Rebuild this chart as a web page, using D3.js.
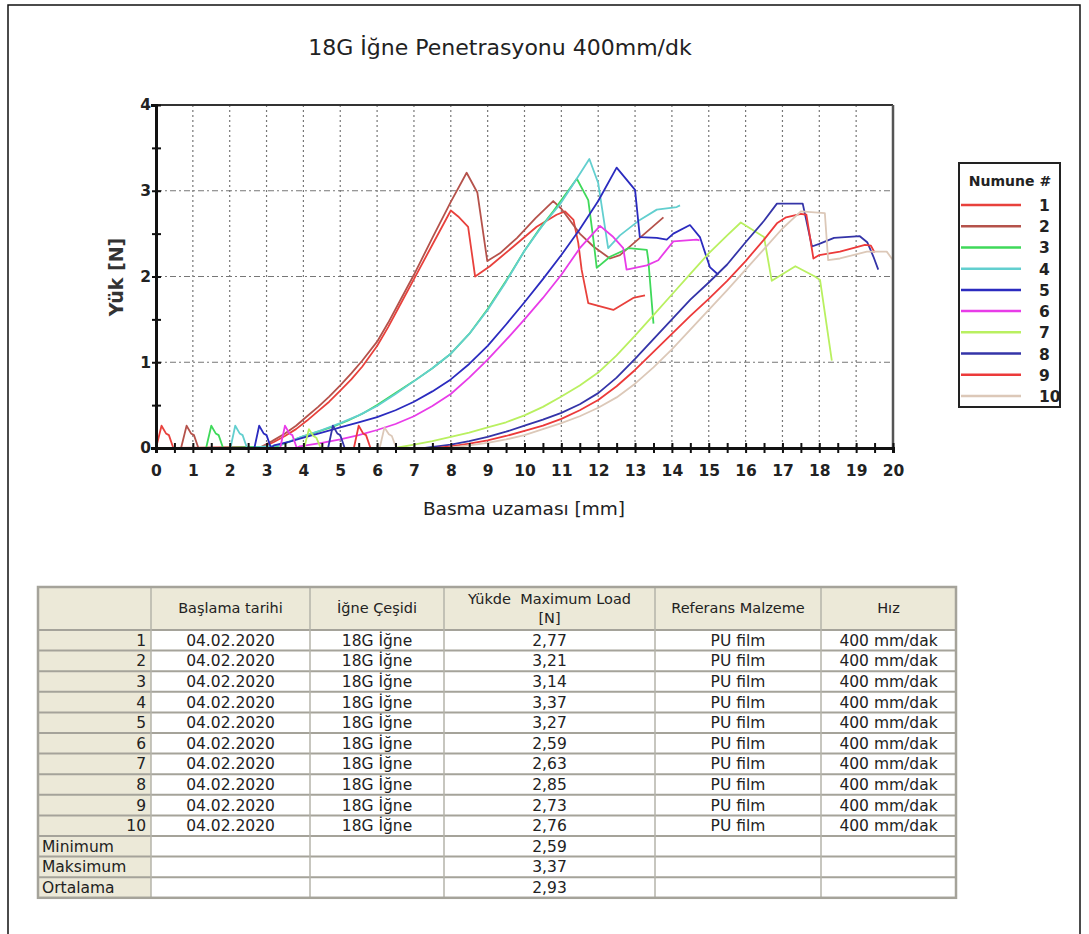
<!DOCTYPE html>
<html>
<head>
<meta charset="utf-8">
<script src="https://cdn.jsdelivr.net/npm/d3@7"></script>
<style>
  body { margin: 0; background: #fff; }
  svg { display: block; font-family: "DejaVu Sans", Verdana, sans-serif; }
</style>
</head>
<body>
<svg id="chart" width="1089" height="934"></svg>
<script>
// ---- data ----
const chartTitle = "18G İğne Penetrasyonu 400mm/dk";
const xLabel = "Basma uzaması [mm]";
const yLabel = "Yük [N]";
const xTicks = [0,1,2,3,4,5,6,7,8,9,10,11,12,13,14,15,16,17,18,19,20];
const yTicks = [0,1,2,3,4];
const legendTitle = "Numune #";
const sampleNames = ["1","2","3","4","5","6","7","8","9","10"];

// [Basma uzaması mm, Yük N]
const n1 = [[0,0],[0.15,0.26],[0.27,0.17],[0.35,0.15],[0.47,0],[2.9,0.01],[3.2,0.07],[3.5,0.14],[3.8,0.22],[4.1,0.32],[4.4,0.43],[4.7,0.54],[5.0,0.67],[5.3,0.8],[5.6,0.95],[6.0,1.19],[6.3,1.41],[6.6,1.65],[7.0,1.97],[7.5,2.37],[8.0,2.77],[8.2,2.7],[8.47,2.58],[8.66,2.0],[9.06,2.12],[9.7,2.35],[10.33,2.58],[10.87,2.72],[11.1,2.76],[11.33,2.66],[11.46,2.39],[11.55,2.08],[11.73,1.69],[12.41,1.61],[12.95,1.75],[13.27,1.78]];
const n2 = [[0.68,0],[0.83,0.26],[0.95,0.17],[1.03,0.15],[1.15,0],[2.85,0.01],[3.15,0.08],[3.5,0.17],[3.8,0.26],[4.1,0.37],[4.4,0.48],[4.7,0.6],[5.0,0.73],[5.3,0.87],[5.6,1.02],[6.0,1.24],[6.3,1.46],[6.6,1.7],[7.0,2.02],[7.5,2.45],[8.0,2.87],[8.43,3.21],[8.72,2.98],[8.99,2.18],[9.33,2.27],[9.8,2.45],[10.3,2.68],[10.78,2.88],[11.0,2.79],[11.5,2.5],[11.87,2.35],[12.32,2.21],[12.59,2.25],[13.13,2.45],[13.77,2.69]];
const n3 = [[1.36,0],[1.5,0.26],[1.62,0.17],[1.7,0.15],[1.82,0],[3.3,0.02],[3.9,0.12],[4.4,0.19],[4.8,0.25],[5.2,0.32],[5.6,0.4],[6.0,0.5],[6.5,0.64],[7.0,0.78],[7.5,0.93],[8.0,1.1],[8.5,1.33],[9.0,1.62],[9.5,1.95],[10.0,2.3],[10.4,2.55],[10.78,2.76],[11.1,2.95],[11.42,3.14],[11.73,2.89],[11.87,2.43],[11.96,2.1],[12.32,2.23],[12.82,2.33],[13.32,2.31],[13.36,2.19],[13.5,1.45]];
const n4 = [[2.02,0],[2.15,0.26],[2.27,0.17],[2.35,0.15],[2.47,0],[3.35,0.03],[4.0,0.14],[4.5,0.21],[5.0,0.29],[5.5,0.38],[6.0,0.49],[6.5,0.63],[7.0,0.78],[7.5,0.93],[8.0,1.1],[8.5,1.33],[9.0,1.61],[9.5,1.94],[10.0,2.3],[10.5,2.6],[10.96,2.84],[11.3,3.06],[11.76,3.37],[12.0,3.09],[12.27,2.33],[12.59,2.48],[13.13,2.66],[13.59,2.78],[14.13,2.81],[14.22,2.83]];
const n5 = [[2.67,0],[2.8,0.26],[2.92,0.17],[3.0,0.15],[3.12,0],[3.2,0.03],[3.6,0.07],[4.0,0.12],[4.5,0.18],[5.0,0.24],[5.5,0.3],[6.0,0.36],[6.5,0.44],[7.0,0.54],[7.5,0.66],[8.0,0.8],[8.5,0.98],[9.0,1.19],[9.5,1.44],[10.0,1.7],[10.5,1.97],[11.0,2.25],[11.5,2.55],[12.0,2.88],[12.5,3.27],[13.0,3.01],[13.13,2.46],[13.59,2.45],[13.86,2.43],[14.04,2.5],[14.49,2.6],[14.76,2.46],[15.03,2.11],[15.26,2.02]];
const n6 = [[3.37,0],[3.5,0.26],[3.62,0.17],[3.7,0.15],[3.82,0],[3.9,0.02],[4.5,0.06],[5.0,0.1],[5.5,0.15],[6.0,0.21],[6.5,0.28],[7.0,0.37],[7.5,0.49],[8.0,0.63],[8.5,0.82],[9.0,1.03],[9.5,1.26],[10.0,1.5],[10.5,1.75],[11.0,2.02],[11.5,2.33],[12.05,2.59],[12.41,2.46],[12.68,2.33],[12.77,2.08],[13.32,2.13],[13.63,2.19],[14.04,2.41],[14.67,2.43],[14.75,2.42]];
const n7 = [[4.02,0],[4.15,0.22],[4.27,0.14],[4.35,0.12],[4.47,0],[6.5,0],[7.0,0.04],[7.5,0.08],[8.0,0.13],[8.5,0.18],[9.0,0.24],[9.5,0.3],[10.0,0.38],[10.5,0.48],[11.0,0.6],[11.5,0.73],[12.0,0.88],[12.5,1.08],[13.0,1.31],[13.5,1.55],[14.0,1.79],[14.5,2.03],[15.0,2.27],[15.5,2.48],[15.87,2.63],[16.5,2.46],[16.71,1.95],[17.35,2.12],[17.88,2.0],[18.02,1.96],[18.34,1.02]];
const n8 = [[4.67,0],[4.8,0.26],[4.92,0.17],[5.0,0.15],[5.12,0],[7.3,0],[8.0,0.04],[8.5,0.08],[9.0,0.13],[9.5,0.19],[10.0,0.26],[10.5,0.33],[11.0,0.41],[11.5,0.51],[12.0,0.64],[12.5,0.82],[13.0,1.04],[13.5,1.27],[14.0,1.5],[14.5,1.73],[15.0,1.93],[15.5,2.14],[16.0,2.4],[16.5,2.65],[16.85,2.85],[17.55,2.85],[17.8,2.35],[18.0,2.38],[18.4,2.45],[19.1,2.47],[19.3,2.4],[19.47,2.23],[19.6,2.08]];
const n9 = [[5.37,0],[5.5,0.26],[5.62,0.17],[5.7,0.15],[5.82,0],[7.6,0],[8.0,0.02],[8.5,0.05],[9.0,0.09],[9.5,0.14],[10.0,0.2],[10.5,0.26],[11.0,0.34],[11.5,0.44],[12.0,0.56],[12.5,0.72],[13.0,0.91],[13.5,1.12],[14.0,1.33],[14.5,1.54],[15.0,1.74],[15.5,1.95],[16.0,2.18],[16.5,2.43],[16.85,2.62],[17.1,2.69],[17.5,2.73],[17.65,2.72],[17.84,2.21],[18.0,2.25],[18.56,2.29],[19.24,2.37],[19.4,2.36],[19.5,2.28]];
const n10 = [[6.07,0],[6.2,0.24],[6.32,0.16],[6.4,0.14],[6.52,0],[7.9,0],[8.5,0.03],[9.0,0.06],[9.5,0.1],[10.0,0.15],[10.5,0.22],[11.0,0.29],[11.5,0.37],[12.0,0.47],[12.5,0.59],[13.0,0.75],[13.5,0.94],[14.0,1.15],[14.5,1.38],[15.0,1.61],[15.5,1.84],[16.0,2.08],[16.5,2.32],[17.0,2.56],[17.5,2.76],[18.15,2.74],[18.24,2.19],[18.56,2.21],[19.29,2.29],[19.83,2.29],[20.0,2.19]];
const allSeries = [n1, n2, n3, n4, n5, n6, n7, n8, n9, n10];

// table
const tableHeaders = ["", "Başlama tarihi", "İğne Çeşidi", "Yükde  Maximum Load\n[N]", "Referans Malzeme", "Hız"];
const startDates = ["04.02.2020","04.02.2020","04.02.2020","04.02.2020","04.02.2020","04.02.2020","04.02.2020","04.02.2020","04.02.2020","04.02.2020"];
const needleTypes = ["18G İğne","18G İğne","18G İğne","18G İğne","18G İğne","18G İğne","18G İğne","18G İğne","18G İğne","18G İğne"];
const maxLoads = ["2,77","3,21","3,14","3,37","3,27","2,59","2,63","2,85","2,73","2,76"];
const refMaterials = ["PU film","PU film","PU film","PU film","PU film","PU film","PU film","PU film","PU film","PU film"];
const speeds = ["400 mm/dak","400 mm/dak","400 mm/dak","400 mm/dak","400 mm/dak","400 mm/dak","400 mm/dak","400 mm/dak","400 mm/dak","400 mm/dak"];
const summaryLabels = ["Minimum", "Maksimum", "Ortalama"];
const summaryValues = ["2,59", "3,37", "2,93"];

// ---- styles ----
const colors = ["#e8413c", "#b5524b", "#3fd95a", "#62cfcf", "#2b2bbf", "#e83ce8", "#b9f060", "#3434a8", "#ec3a3a", "#dcc8b8"];
const beige = "#ece9d8";

const svg = d3.select("#chart");

// outer frame
svg.append("rect")
    .attr("x", 8).attr("y", 5)
    .attr("width", 1072).attr("height", 940)
    .attr("fill", "none").attr("stroke", "#111").attr("stroke-width", 1.5);

svg.append("text")
    .attr("x", 500).attr("y", 55)
    .attr("text-anchor", "middle")
    .attr("font-size", 22)
    .attr("fill", "#222")
    .text(chartTitle);

// scales
const plot = { left: 156, right: 893, top: 105, bottom: 448 };
const xScale = d3.scaleLinear().domain([0, 20]).range([plot.left, plot.right]);
const yScale = d3.scaleLinear().domain([0, 4]).range([plot.bottom, plot.top]);

// grid
const grid = svg.append("g");
grid.selectAll("line.vx")
    .data(xTicks.filter(d => d > 0 && d < 20))
    .enter().append("line")
        .attr("x1", d => xScale(d)).attr("x2", d => xScale(d))
        .attr("y1", plot.top).attr("y2", plot.bottom)
        .attr("stroke", "#777").attr("stroke-width", 1.2)
        .attr("stroke-dasharray", "2,3");
grid.selectAll("line.hy")
    .data(yTicks.filter(d => d > 0 && d < 4))
    .enter().append("line")
        .attr("x1", plot.left).attr("x2", plot.right)
        .attr("y1", d => yScale(d)).attr("y2", d => yScale(d))
        .attr("stroke", "#777").attr("stroke-width", 1.2)
        .attr("stroke-dasharray", "6,3,2,3");

// curves
const line = d3.line().x(d => xScale(d[0])).y(d => yScale(d[1]));
svg.append("g")
    .selectAll("path")
    .data(allSeries)
    .enter().append("path")
        .attr("d", line)
        .attr("fill", "none")
        .attr("stroke", (d, i) => colors[i])
        .attr("stroke-width", 1.8)
        .attr("stroke-linejoin", "round");

// frame of the plot
svg.append("line").attr("x1", plot.left).attr("x2", plot.right).attr("y1", plot.top).attr("y2", plot.top)
    .attr("stroke", "#333").attr("stroke-width", 2);
svg.append("line").attr("x1", plot.right).attr("x2", plot.right).attr("y1", plot.top).attr("y2", plot.bottom)
    .attr("stroke", "#555").attr("stroke-width", 2.5);

// axes
const xAxisGenerator = d3.axisBottom(xScale)
    .tickValues(d3.range(0, 20.01, 0.5))
    .tickSize(5)
    .tickFormat(d => Number.isInteger(d) ? d : "");
const xAxis = svg.append("g")
    .attr("transform", `translate(0,${plot.bottom})`)
    .call(xAxisGenerator);
xAxis.select(".domain").attr("stroke", "#111").attr("stroke-width", 3);
xAxis.selectAll(".tick line").attr("y1", -5).attr("y2", 5).attr("stroke", "#111").attr("stroke-width", 2);
xAxis.selectAll(".tick text")
    .attr("y", 17)
    .attr("font-size", 15.5).attr("font-weight", "bold")
    .attr("font-family", "DejaVu Sans, sans-serif")
    .attr("fill", "#222");

const yAxisGenerator = d3.axisLeft(yScale)
    .tickValues(d3.range(0, 4.01, 0.5))
    .tickSize(5)
    .tickFormat(d => Number.isInteger(d) ? d : "");
const yAxis = svg.append("g")
    .attr("transform", `translate(${plot.left},0)`)
    .call(yAxisGenerator);
yAxis.select(".domain").attr("stroke", "#111").attr("stroke-width", 3);
yAxis.selectAll(".tick line").attr("x1", -4).attr("x2", 5).attr("stroke", "#111").attr("stroke-width", 2);
yAxis.selectAll(".tick text")
    .attr("x", -5)
    .attr("font-size", 15.5).attr("font-weight", "bold")
    .attr("font-family", "DejaVu Sans, sans-serif")
    .attr("fill", "#222");

svg.append("text")
    .attr("x", 524).attr("y", 515)
    .attr("text-anchor", "middle")
    .attr("font-size", 18.5)
    .attr("fill", "#222")
    .text(xLabel);

svg.append("text")
    .attr("transform", "translate(123,277) rotate(-90)")
    .attr("text-anchor", "middle")
    .attr("font-size", 19)
    .attr("font-weight", "bold")
    .attr("fill", "#333")
    .text(yLabel);

// legend
const legend = svg.append("g");
legend.append("rect")
    .attr("x", 959).attr("y", 163)
    .attr("width", 101).attr("height", 244)
    .attr("fill", "#fff").attr("stroke", "#222").attr("stroke-width", 2);
legend.append("text")
    .attr("x", 1010).attr("y", 186)
    .attr("text-anchor", "middle")
    .attr("font-size", 14).attr("font-weight", "bold")
    .attr("fill", "#222")
    .text(legendTitle);
const legendY = d3.scalePoint().domain(sampleNames).range([205, 396]);
const legendItems = legend.selectAll("g.item")
    .data(sampleNames)
    .enter().append("g");
legendItems.append("line")
    .attr("x1", 961).attr("x2", 1021)
    .attr("y1", d => legendY(d)).attr("y2", d => legendY(d))
    .attr("stroke", (d, i) => colors[i])
    .attr("stroke-width", 2.5);
legendItems.append("text")
    .attr("x", 1039).attr("y", d => legendY(d) + 6)
    .attr("font-size", 15.5).attr("font-weight", "bold")
    .attr("fill", "#222")
    .text(d => d);

// table
const colEdges = [38, 151, 310, 444, 655, 821, 956];
const headerTop = 587, headerBottom = 630, rowH = 20.6;
const rowLabels = sampleNames.concat(summaryLabels);
const tableRows = rowLabels.map((label, i) => i < 10
    ? [label, startDates[i], needleTypes[i], maxLoads[i], refMaterials[i], speeds[i]]
    : [label, "", "", summaryValues[i - 10], "", ""]);
const tableBottom = headerBottom + rowH * tableRows.length;

const table = svg.append("g").attr("font-size", 15.5).attr("fill", "#222");
table.append("rect")
    .attr("x", colEdges[0]).attr("y", headerTop)
    .attr("width", colEdges[6] - colEdges[0]).attr("height", tableBottom - headerTop)
    .attr("fill", "#fff");
table.append("rect")
    .attr("x", colEdges[0]).attr("y", headerTop)
    .attr("width", colEdges[6] - colEdges[0]).attr("height", headerBottom - headerTop)
    .attr("fill", beige);
table.append("rect")
    .attr("x", colEdges[0]).attr("y", headerTop)
    .attr("width", colEdges[1] - colEdges[0]).attr("height", tableBottom - headerTop)
    .attr("fill", beige);

// row lines
table.selectAll("line.row")
    .data(d3.range(tableRows.length))
    .enter().append("line")
        .attr("x1", colEdges[0]).attr("x2", colEdges[6])
        .attr("y1", i => headerBottom + rowH * i).attr("y2", i => headerBottom + rowH * i)
        .attr("stroke", "#a5a39a").attr("stroke-width", 2);
table.selectAll("line.col")
    .data(colEdges.slice(1, 6))
    .enter().append("line")
        .attr("x1", d => d).attr("x2", d => d)
        .attr("y1", headerTop).attr("y2", tableBottom)
        .attr("stroke", "#b5b3aa").attr("stroke-width", 1.5);
table.append("rect")
    .attr("x", colEdges[0]).attr("y", headerTop)
    .attr("width", colEdges[6] - colEdges[0]).attr("height", tableBottom - headerTop)
    .attr("fill", "none").attr("stroke", "#a5a39a").attr("stroke-width", 2.5);

// header text
tableHeaders.forEach((h, c) => {
    const lines = h.split("\n");
    const cx = (colEdges[c] + colEdges[c + 1]) / 2;
    lines.forEach((t, k) => {
        table.append("text")
            .attr("x", cx)
            .attr("y", lines.length > 1 ? headerTop + 17 + k * 19 : headerTop + 26)
            .attr("text-anchor", "middle")
            .attr("font-size", 14.5)
            .attr("xml:space", "preserve")
            .style("white-space", "pre")
            .text(t);
    });
});

// body text
tableRows.forEach((row, r) => {
    const y = headerBottom + rowH * r + rowH / 2 + 5.5;
    row.forEach((v, c) => {
        if (!v) return;
        const t = table.append("text").attr("y", y).text(v);
        if (c === 0) {
            if (r < 10) t.attr("x", colEdges[1] - 5).attr("text-anchor", "end");
            else t.attr("x", colEdges[0] + 4);
        } else {
            t.attr("x", (colEdges[c] + colEdges[c + 1]) / 2).attr("text-anchor", "middle");
        }
    });
});
</script>
</body>
</html>
